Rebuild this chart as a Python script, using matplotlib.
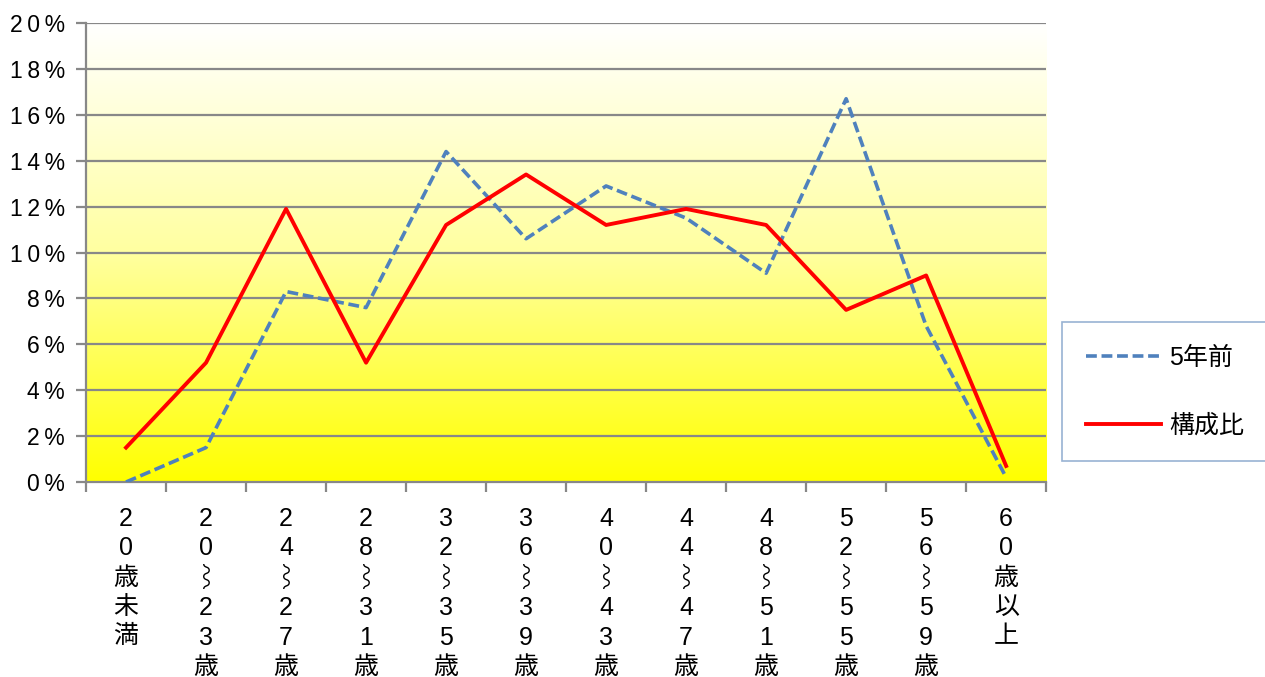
import numpy as np
import matplotlib
matplotlib.use("Agg")
import matplotlib.pyplot as plt
from matplotlib.colors import LinearSegmentedColormap

plt.rcParams['font.family'] = ['Liberation Sans', 'Noto Sans CJK JP', 'DejaVu Sans']

# data (percent)
categories = ["20歳未満", "20⌇23歳", "24⌇27歳", "28⌇31歳", "32⌇35歳", "36⌇39歳",
              "40⌇43歳", "44⌇47歳", "48⌇51歳", "52⌇55歳", "56⌇59歳", "60歳以上"]
prev5 = [0.0, 1.5, 8.3, 7.6, 14.4, 10.6, 12.9, 11.5, 9.1, 16.7, 6.8, 0.2]
ratio = [1.5, 5.2, 11.9, 5.2, 11.2, 13.4, 11.2, 11.9, 11.2, 7.5, 9.0, 0.7]
yticks = [0, 2, 4, 6, 8, 10, 12, 14, 16, 18, 20]
ytick_labels = ["0%", "2%", "4%", "6%", "8%", "10%", "12%", "14%", "16%", "18%", "20%"]

fig = plt.figure(figsize=(12.65, 6.77), dpi=100)
ax = fig.add_axes([0.068, 0.288, 0.759, 0.678])

x = np.arange(len(categories))
ax.set_xlim(-0.5, len(categories) - 0.5)
ax.set_ylim(0, 20)

# gradient background: yellow at bottom -> white at top
cmap = LinearSegmentedColormap.from_list("yw", ["#ffff00", "#ffffa0", "#ffffff"])
grad = np.linspace(0, 1, 256).reshape(-1, 1)
ax.imshow(grad, cmap=cmap, aspect='auto', origin='lower',
          extent=[-0.5, len(categories) - 0.5, 0, 20], zorder=0)

for yv in yticks[1:]:
    ax.axhline(yv, color='#888888', lw=1.6, zorder=1)

ax.plot(x, prev5, color='#4f81bd', lw=2.6, ls=(0, (3.0, 1.3)), label='5年前', zorder=3)
ax.plot(x, ratio, color='#ff0000', lw=2.8, label='構成比', zorder=4)

ax.set_yticks(yticks)
ax.set_yticklabels(["\u2009".join(t) for t in ytick_labels], fontsize=16.5)
ax.set_xticks(x)
ax.set_xticklabels(["\n".join(c) for c in categories], fontsize=18, linespacing=1.28)
ax.set_xticks(np.arange(-0.5, len(categories)), minor=True)
ax.tick_params(axis='x', which='major', length=0, pad=18)
ax.tick_params(axis='x', which='minor', length=7, width=1.6, color='#888888', direction='out')
ax.tick_params(axis='y', length=7, width=1.6, color='#888888', pad=8)

for s in ['top', 'right']:
    ax.spines[s].set_visible(False)
ax.spines['left'].set_color('#888888')
ax.spines['left'].set_linewidth(1.6)
ax.spines['bottom'].set_color('#888888')
ax.spines['bottom'].set_linewidth(1.6)

leg = fig.legend(loc='upper left', bbox_to_anchor=(0.8395, 0.5244),
                 fontsize=18, frameon=True, fancybox=False, borderaxespad=0,
                 handlelength=3.0, labelspacing=1.75, borderpad=0.95, handletextpad=0.35)
leg.get_frame().set_edgecolor('#7f9fc8')
leg.get_frame().set_linewidth(1.2)

fig.savefig("out.png", dpi=100)
